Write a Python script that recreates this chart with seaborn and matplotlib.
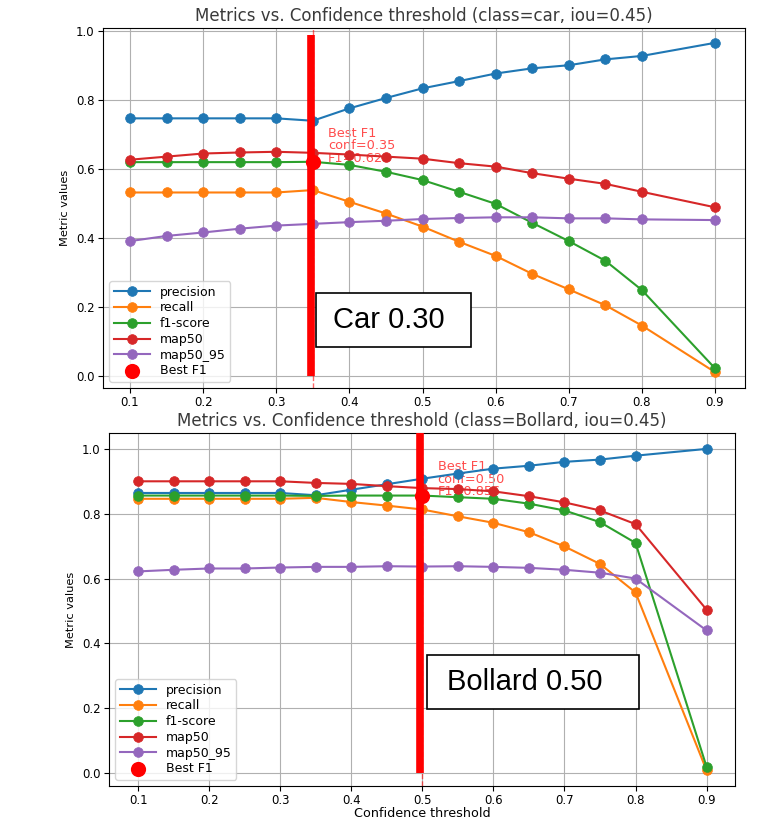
import numpy as np
import pandas as pd
import matplotlib
matplotlib.use('Agg')
import matplotlib.pyplot as plt
from matplotlib.patches import Rectangle
import seaborn as sns

# confidence thresholds (0.85 missing in the run)
conf = [0.1, 0.15, 0.2, 0.25, 0.3, 0.35, 0.4, 0.45, 0.5, 0.55, 0.6, 0.65, 0.7, 0.75, 0.8, 0.9]
metric_names = ['precision', 'recall', 'f1-score', 'map50', 'map50_95']

# class = car
car_precision = [0.747, 0.747, 0.747, 0.747, 0.747, 0.740, 0.776, 0.806, 0.834, 0.855, 0.877, 0.892, 0.901, 0.918, 0.928, 0.966]
car_recall = [0.532, 0.532, 0.532, 0.532, 0.532, 0.539, 0.505, 0.471, 0.433, 0.389, 0.348, 0.296, 0.251, 0.205, 0.146, 0.011]
car_f1 = [0.620, 0.620, 0.620, 0.620, 0.620, 0.621, 0.612, 0.592, 0.568, 0.534, 0.499, 0.444, 0.391, 0.334, 0.249, 0.022]
car_map50 = [0.627, 0.636, 0.645, 0.648, 0.650, 0.647, 0.642, 0.636, 0.630, 0.617, 0.607, 0.588, 0.572, 0.557, 0.534, 0.489]
car_map50_95 = [0.391, 0.406, 0.416, 0.427, 0.436, 0.441, 0.446, 0.450, 0.455, 0.458, 0.460, 0.460, 0.457, 0.457, 0.454, 0.452]
car_best = (0.35, 0.621)

# class = Bollard
bol_precision = [0.864, 0.864, 0.864, 0.864, 0.864, 0.857, 0.874, 0.891, 0.908, 0.924, 0.939, 0.948, 0.960, 0.967, 0.979, 1.000]
bol_recall = [0.846, 0.846, 0.846, 0.846, 0.846, 0.849, 0.836, 0.825, 0.813, 0.792, 0.772, 0.743, 0.699, 0.645, 0.557, 0.008]
bol_f1 = [0.856, 0.856, 0.856, 0.856, 0.856, 0.855, 0.856, 0.856, 0.856, 0.851, 0.846, 0.831, 0.810, 0.774, 0.710, 0.019]
bol_map50 = [0.900, 0.900, 0.900, 0.900, 0.900, 0.895, 0.892, 0.885, 0.879, 0.876, 0.869, 0.854, 0.835, 0.810, 0.768, 0.504]
bol_map50_95 = [0.622, 0.627, 0.631, 0.631, 0.634, 0.636, 0.636, 0.638, 0.637, 0.638, 0.636, 0.633, 0.627, 0.618, 0.600, 0.440]
bol_best = (0.50, 0.856)

# hand-drawn marks on the screenshot
marked_thr = [0.347, 0.497]
marked_top = [0.988, 1.049]
marked_text = ['Car 0.30', 'Bollard 0.50']

W, H = 784, 819
fig = plt.figure(figsize=(W / 100, H / 100), dpi=100)

def px_axes(l, t, r, b):
    return fig.add_axes([l / W, 1 - b / H, (r - l) / W, (b - t) / H])

ax1 = px_axes(103, 28, 745, 388)
ax2 = px_axes(109, 433, 735, 786)

colors = sns.color_palette('tab10')

def draw(ax, series, best, cls, xlabel, xlim, ylim):
    for k, (name, vals) in enumerate(zip(metric_names, series)):
        sns.lineplot(x=conf, y=vals, ax=ax, color=colors[k], marker='o', markersize=7,
                     markeredgecolor=colors[k], markeredgewidth=0.5, linewidth=1.5,
                     label=name, sort=False)
    ax.axvline(best[0], color='red', linestyle='--', linewidth=1, alpha=0.6)
    sns.scatterplot(x=[best[0]], y=[best[1]], ax=ax, color='red', s=120, linewidth=0,
                    zorder=5, label='Best F1')
    ax.annotate('Best F1\nconf=%.2f\nF1=%.3f' % best, xy=best, xytext=(11, -2),
                textcoords='offset points', color='red', alpha=0.7, fontsize=9.3,
                ha='left', va='bottom', linespacing=0.95, zorder=1.5)
    ax.set_title('Metrics vs. Confidence threshold (class=%s, iou=0.45)' % cls,
                 fontsize=12, color='#3a3a3a', pad=5)
    ax.set_ylabel('Metric values', fontsize=8.2)
    ax.set_xlabel(xlabel, fontsize=9.2, labelpad=0)
    ax.grid(True, color='#b0b0b0', linewidth=0.8)
    ax.set_xticks([0.1, 0.2, 0.3, 0.4, 0.5, 0.6, 0.7, 0.8, 0.9])
    ax.set_yticks([0.0, 0.2, 0.4, 0.6, 0.8, 1.0])
    ax.set_xlim(*xlim)
    ax.set_ylim(*ylim)
    ax.tick_params(labelsize=8.5, pad=2.5)
    ax.legend(loc='lower left', fontsize=9, labelspacing=0.22, handlelength=2.9,
              borderpad=0.35, handletextpad=0.8)

draw(ax1, [car_precision, car_recall, car_f1, car_map50, car_map50_95], car_best, 'car', '',
     (0.063, 0.941), (-0.035, 1.009))
draw(ax2, [bol_precision, bol_recall, bol_f1, bol_map50, bol_map50_95], bol_best, 'Bollard',
     'Confidence threshold', (0.059, 0.940), (-0.040, 1.049))

# thick red marker bars
for ax, xv, top in zip([ax1, ax2], marked_thr, marked_top):
    ax.vlines(xv, 0, top, color='red', linewidth=5.5, zorder=6)

# boxed labels (pixel boxes of the screenshot)
boxes = [(316, 293, 471, 347, 333), (427, 655, 639, 709, 447)]
for (l, t, r, b, tx), txt in zip(boxes, marked_text):
    fig.patches.append(Rectangle((l / W, 1 - b / H), (r - l) / W, (b - t) / H,
                                 transform=fig.transFigure, facecolor='white',
                                 edgecolor='black', linewidth=1.2, zorder=10))
    fig.text(tx / W, 1 - (t + b) / 2 / H, txt, fontsize=21, family='Liberation Sans',
             ha='left', va='center', zorder=11)

fig.savefig('out.png', dpi=100)
